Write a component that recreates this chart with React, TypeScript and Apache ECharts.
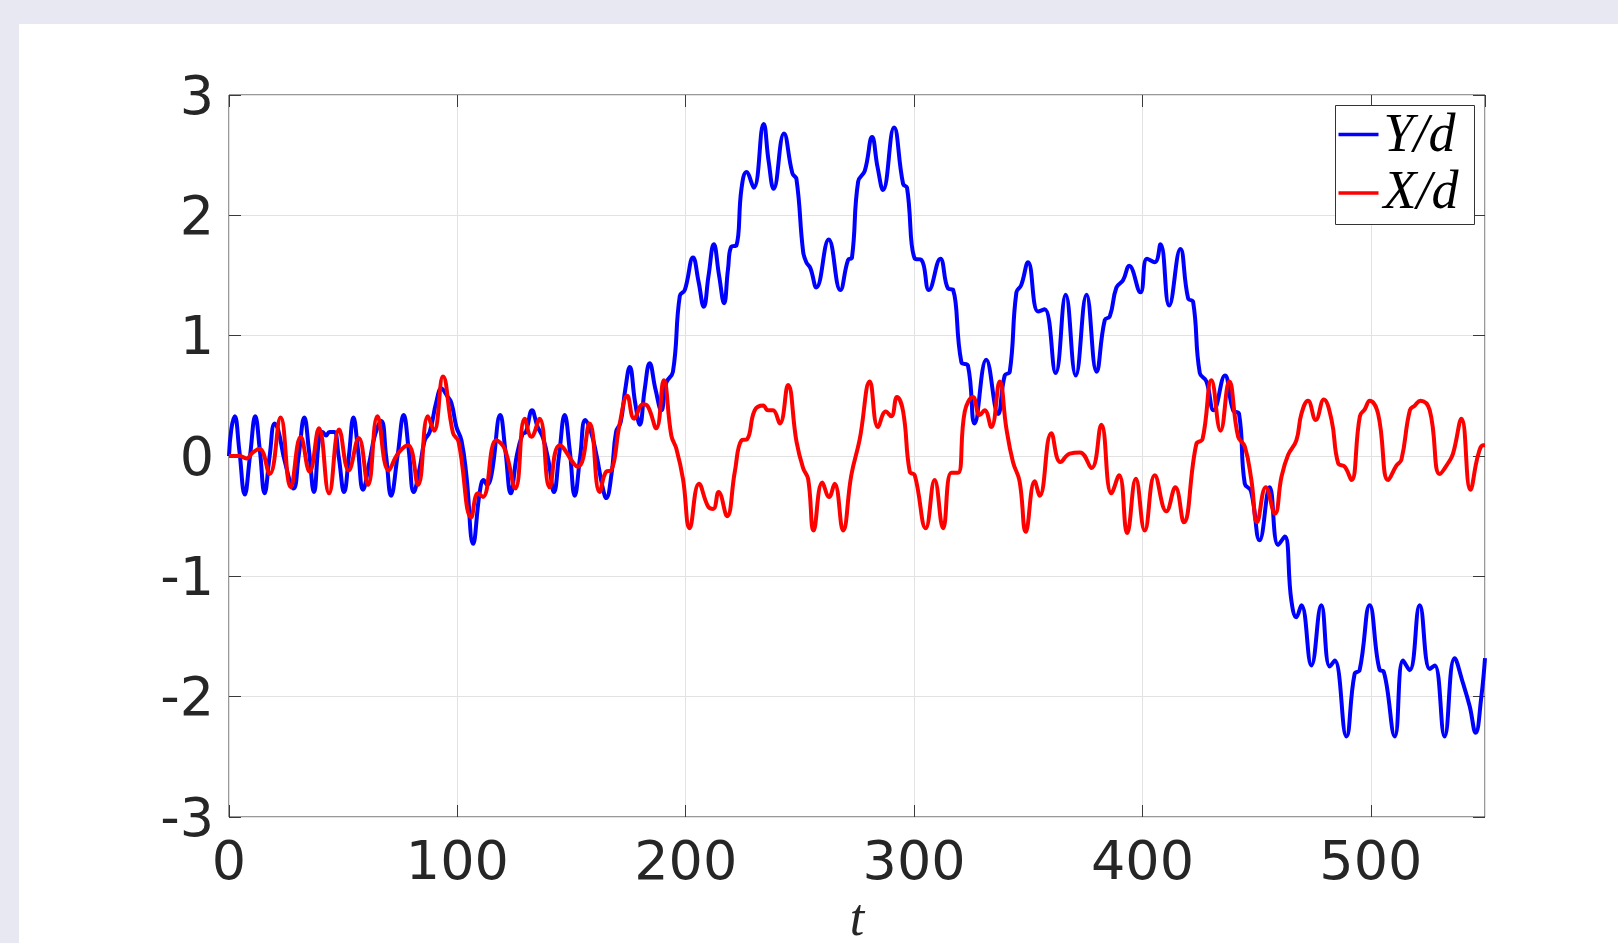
import React, { useEffect, useRef } from "react";
import * as echarts from "echarts";

// ---- data ----
const SERIES_NAMES = ["Y/d", "X/d"];
const SERIES_COLORS = ["#0000ff", "#ff0000"];

const yT = [
  0, 1.0, 2.5, 4.5, 6.9, 9.2, 11.5, 13.5, 15.6, 17.8, 20.0, 21.5, 24.5, 28.3, 30.5, 33.0, 35.0, 37.2,
  39.5, 41.0, 42.5, 44.0, 46.0, 48.0, 50.4, 52.5, 54.5, 56.5, 58.7, 61.5, 64.0, 66.7, 68.8, 71.0,
  73.8, 76.5, 78.7, 80.9, 83.5, 85.7, 87.9, 90.8, 93.0, 95.5, 97.4, 99.6, 101.8, 104.0, 106.9, 109.8,
  111.5, 113.0, 115.0, 118.8, 121.0, 123.4, 126.0, 128.5, 130.0, 132.7, 135.0, 137.5, 140.0, 142.3,
  144.5, 147.0, 149.2, 151.4, 153.8, 156.0, 158.5, 161.0, 163.5, 165.2, 167.5, 169.5, 171.5, 173.5,
  175.5, 177.8, 179.9, 182.0, 184.2, 186.8, 189.3, 191.5, 194.4, 197.4, 199.6, 203.2, 205.6, 207.9,
  210.0, 212.3, 214.6, 216.8, 218.5, 220.0, 222.2, 224.4, 226.6, 229.8, 234.1, 236.3, 238.5, 243.0,
  246.7, 248.5, 251.4, 252.8, 254.6, 257.2, 262.6, 267.7, 271.1, 272.8, 275.5, 278.4, 281.6, 284.0,
  286.4, 291.2, 295.2, 296.9, 300.3, 303.2, 306.5, 311.5, 314.9, 317.1, 320.7, 323.6, 326.5, 331.6,
  336.8, 339.7, 341.9, 344.8, 346.9, 349.9, 354.3, 357.2, 362.0, 366.4, 370.8, 375.5, 379.9, 383.5,
  385.7, 388.6, 391.5, 394.2, 399.1, 402.0, 405.4, 407.9, 411.7, 416.6, 420.0, 422.2, 425.1, 428.0,
  431.2, 436.1, 439.7, 442.3, 444.8, 447.5, 451.3, 455.7, 459.4, 462.3, 465.2, 467.4, 469.6, 474.0,
  478.3, 482.0, 484.2, 489.3, 492.9, 495.1, 499.5, 503.9, 505.6, 510.5, 514.1, 517.0, 521.4, 525.8,
  528.0, 532.3, 536.7, 540.4, 543.3, 545.9, 548.4, 550.0,
];
const yV = [
  0, 0.22, 0.33, 0.05, -0.32, 0.0, 0.33, 0.05, -0.31, 0.0, 0.27, 0.22, -0.05, -0.27, 0.0, 0.32, 0.05, -0.3,
  0.15, 0.2, 0.17, 0.2, 0.2, 0.0, -0.3, 0.0, 0.32, 0.05, -0.28, -0.05, 0.18, 0.29, 0.0, -0.33,
  0.0, 0.34, 0.05, -0.3, -0.1, 0.13, 0.2, 0.45, 0.56, 0.5, 0.44, 0.24, 0.13, -0.17, -0.73, -0.3,
  -0.2, -0.24, -0.15, 0.34, 0.05, -0.31, 0.0, 0.18, 0.2, 0.38, 0.25, 0.15, -0.05, -0.3,
  0.0, 0.34, 0.05, -0.33, 0.0, 0.3, 0.2, 0.0, -0.25, -0.35, -0.15, 0.2, 0.28, 0.55,
  0.74, 0.45, 0.26, 0.55, 0.77, 0.55, 0.38, 0.61, 0.7, 1.33, 1.38, 1.65, 1.45, 1.24,
  1.5, 1.76, 1.5, 1.27, 1.55, 1.74, 1.75, 2.22, 2.36, 2.23, 2.76, 2.45, 2.22, 2.68,
  2.35, 2.3, 1.7, 1.61, 1.56, 1.4, 1.8, 1.38, 1.63, 1.65, 2.28, 2.37, 2.65, 2.4,
  2.21, 2.73, 2.26, 2.23, 1.64, 1.63, 1.38, 1.64, 1.39, 1.38, 0.78, 0.75, 0.27, 0.8,
  0.35, 0.67, 0.7, 1.36, 1.42, 1.61, 1.2, 1.22, 0.69, 1.34, 0.67, 1.34, 0.7, 1.13,
  1.16, 1.4, 1.46, 1.58, 1.36, 1.64, 1.61, 1.76, 1.25, 1.72, 1.31, 1.28, 0.69, 0.62,
  0.38, 0.67, 0.38, 0.35, -0.23, -0.29, -0.7, -0.26, -0.74, -0.67, -1.2, -1.34, -1.24, -1.74,
  -1.24, -1.75, -1.7, -2.33, -1.81, -1.78, -1.24, -1.78, -1.79, -2.33, -1.7, -1.78, -1.24, -1.77,
  -1.74, -2.33, -1.68, -1.89, -2.08, -2.3, -2.0, -1.68,
];

const xT = [
  0, 4.7, 7.6, 10.5, 13.4, 17.8, 22.6, 27.0, 31.4, 35.3, 39.4, 43.8, 48.2, 52.4, 56.8, 60.9, 65.0,
  69.9, 74.0, 78.4, 82.8, 87.1, 89.8, 93.7, 98.1, 100.5, 106.1, 109.0, 111.2, 117.0, 120.7, 125.4,
  129.5, 132.4, 136.0, 140.4, 144.8, 152.8, 157.9, 162.3, 165.2, 167.4, 171.1, 174.4, 177.4, 181.3,
  183.5, 187.1, 190.4, 193.7, 195.9, 198.8, 201.7, 205.8, 209.8, 212.0, 214.4, 218.1, 221.5, 224.4,
  226.9, 230.2, 233.9, 236.0, 238.2, 241.2, 244.8, 248.5, 251.4, 253.6, 256.0, 259.8, 262.8, 265.2,
  268.9, 272.5, 276.2, 280.6, 284.2, 287.6, 290.0, 292.5, 295.2, 298.1, 300.3, 305.1, 309.0, 312.7,
  316.3, 319.2, 322.2, 325.8, 328.7, 330.9, 333.8, 337.5, 340.4, 343.3, 346.2, 348.9, 352.8, 355.0,
  360.1, 364.1, 368.2, 372.6, 377.7, 382.0, 386.4, 389.8, 393.3, 397.1, 401.0, 405.4, 410.5, 414.4,
  418.1, 423.6, 426.3, 430.2, 434.2, 438.0, 441.9, 444.8, 447.7, 450.2, 454.0, 458.0, 460.9, 463.8,
  467.4, 469.6, 472.5, 475.9, 479.4, 482.8, 485.7, 488.6, 491.5, 495.2, 497.4, 499.5, 503.2, 507.6,
  511.2, 513.4, 517.1, 519.3, 521.7, 525.8, 530.2, 533.8, 536.0, 539.7, 543.6, 547.0, 549.2, 550.0,
];
const xV = [
  0, 0.0, -0.02, 0.03, 0.06, -0.15, 0.32, -0.26, 0.16, -0.13, 0.23, -0.31, 0.22, -0.12, 0.15, -0.24, 0.33,
  -0.12, 0.02, 0.09, -0.24, 0.33, 0.21, 0.66, 0.19, 0.12, -0.51, -0.31, -0.34, 0.13, 0.06, -0.27,
  0.31, 0.16, 0.31, -0.26, 0.09, -0.09, 0.27, -0.3, -0.13, -0.12, 0.27, 0.5, 0.31, 0.43,
  0.41, 0.23, 0.63, 0.17, 0.06, -0.19, -0.6, -0.23, -0.42, -0.44, -0.3, -0.5, -0.13, 0.13,
  0.14, 0.38, 0.42, 0.38, 0.38, 0.27, 0.59, 0.12, -0.1, -0.19, -0.62, -0.22, -0.34, -0.23,
  -0.62, -0.16, 0.14, 0.62, 0.24, 0.37, 0.33, 0.49, 0.37, -0.13, -0.16, -0.6, -0.2, -0.6,
  -0.14, -0.14, 0.37, 0.49, 0.34, 0.38, 0.24, 0.62, 0.23, -0.05, -0.21, -0.63, -0.21, -0.33,
  0.19, -0.05, 0.02, 0.03, -0.1, 0.26, -0.31, -0.16, -0.64, -0.19, -0.62, -0.16, -0.46, -0.26,
  -0.55, 0.1, 0.14, 0.63, 0.21, 0.62, 0.16, 0.08, -0.2, -0.55, -0.26, -0.48, -0.17, 0.01,
  0.13, 0.35, 0.46, 0.3, 0.47, 0.3, -0.06, -0.09, -0.2, 0.33, 0.39, 0.46, 0.35, -0.2,
  -0.08, -0.03, 0.38, 0.42, 0.46, 0.38, -0.15, -0.06, 0.02, 0.31, -0.28, 0.01, 0.09, 0.09,
];

const X_MIN = 0;
const X_MAX = 550;
const X_STEP = 100;
const Y_MIN = -3;
const Y_MAX = 3;
const Y_STEP = 1;
const X_NAME = "t";

const pairs = (t: number[], v: number[]) => t.map((x, i) => [x, v[i]]);

export default function App() {
  const ref = useRef<HTMLDivElement>(null);

  useEffect(() => {
    if (!ref.current) return;
    const chart = echarts.init(ref.current, null, { renderer: "svg" });
    const labelFont = { fontFamily: "DejaVu Sans", fontSize: 54, color: "#262626" };
    const tick = { show: true, inside: true, length: 12, lineStyle: { color: "#3a3a3a", width: 1 } };
    const grid = { color: "#e2e2e2", width: 1 };
    const hiddenLine = { show: false, onZero: false };

    chart.setOption({
      animation: false,
      backgroundColor: "#ffffff",
      grid: {
        left: 210,
        top: 71,
        right: 133,
        bottom: 126,
        show: true,
        borderColor: "#333333",
        borderWidth: 1,
        backgroundColor: "#ffffff",
        containLabel: false,
        outerBoundsMode: "none",
      },
      xAxis: [
        {
          type: "value",
          min: X_MIN,
          max: X_MAX,
          interval: X_STEP,
          position: "bottom",
          name: X_NAME,
          nameLocation: "middle",
          nameGap: 73,
          nameTextStyle: {
            fontFamily: "Liberation Serif",
            fontStyle: "italic",
            fontSize: 52,
            color: "#262626",
            lineHeight: 52,
          },
          axisLine: hiddenLine,
          axisTick: tick,
          axisLabel: { ...labelFont, margin: 16, showMaxLabel: false },
          splitLine: { show: true, lineStyle: grid },
        },
        {
          type: "value",
          min: X_MIN,
          max: X_MAX,
          interval: X_STEP,
          position: "top",
          axisLine: hiddenLine,
          axisTick: tick,
          axisLabel: { show: false },
          splitLine: { show: false },
        },
      ],
      yAxis: [
        {
          type: "value",
          min: Y_MIN,
          max: Y_MAX,
          interval: Y_STEP,
          position: "left",
          axisLine: hiddenLine,
          axisTick: tick,
          axisLabel: { ...labelFont, margin: 15 },
          splitLine: { show: true, lineStyle: grid },
        },
        {
          type: "value",
          min: Y_MIN,
          max: Y_MAX,
          interval: Y_STEP,
          position: "right",
          axisLine: hiddenLine,
          axisTick: tick,
          axisLabel: { show: false },
          splitLine: { show: false },
        },
      ],
      series: [
        {
          name: SERIES_NAMES[0],
          type: "line",
          data: pairs(yT, yV),
          showSymbol: false,
          smooth: 0.45,
          lineStyle: { color: SERIES_COLORS[0], width: 4 },
          itemStyle: { color: SERIES_COLORS[0] },
          z: 3,
        },
        {
          name: SERIES_NAMES[1],
          type: "line",
          data: pairs(xT, xV),
          showSymbol: false,
          smooth: 0.45,
          lineStyle: { color: SERIES_COLORS[1], width: 4 },
          itemStyle: { color: SERIES_COLORS[1] },
          z: 4,
        },
      ],
      graphic: [
        {
          type: "group",
          left: 1316,
          top: 81,
          z: 100,
          children: [
            {
              type: "rect",
              shape: { x: 0, y: 0, width: 139, height: 119 },
              style: { fill: "#ffffff", stroke: "#333333", lineWidth: 1 },
              z: 100,
            },
            ...SERIES_NAMES.map((name, i) => ({
              type: "group",
              z: 101,
              children: [
                {
                  type: "line",
                  shape: { x1: 3, y1: 29 + i * 58.5, x2: 43, y2: 29 + i * 58.5 },
                  style: { stroke: SERIES_COLORS[i], lineWidth: 3.5 },
                  z: 101,
                },
                {
                  type: "text",
                  x: 48,
                  y: 27 + i * 57,
                  z: 101,
                  style: {
                    text: name,
                    fontFamily: "Liberation Serif",
                    fontStyle: "italic",
                    fontSize: 54,
                    fill: "#000000",
                    verticalAlign: "middle",
                    align: "left",
                  },
                },
              ],
            })),
          ],
        },
      ],
    });

    return () => chart.dispose();
  }, []);

  return (
    <div
      style={{
        position: "absolute",
        left: 0,
        top: 0,
        width: 1618,
        height: 943,
        background: "#e8e8f2",
        overflow: "hidden",
      }}
    >
      <div
        ref={ref}
        style={{ position: "absolute", left: 19, top: 24, width: 1599, height: 919, background: "#ffffff" }}
      />
    </div>
  );
}
